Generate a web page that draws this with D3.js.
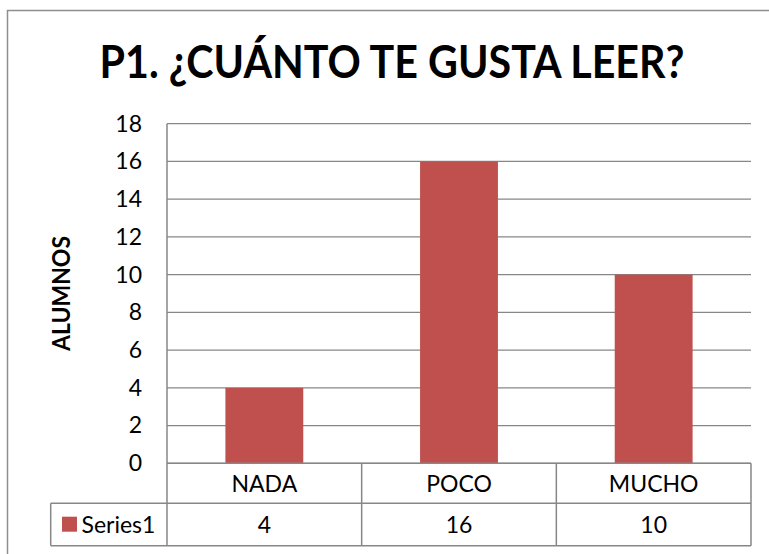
<!DOCTYPE html>
<html>
<head>
<meta charset="utf-8">
<script src="https://cdn.jsdelivr.net/npm/d3@7"></script>
<style>
  body { margin: 0; background: #fff; }
  svg text { font-family: Lato, "Liberation Sans", sans-serif; fill: #000; }
</style>
</head>
<body>
<svg id="chart" width="769" height="554"></svg>
<script>
var categories = ["NADA", "POCO", "MUCHO"];
var values = [4, 16, 10];
var seriesName = "Series1";
var yTicks = [0, 2, 4, 6, 8, 10, 12, 14, 16, 18];
var chartTitle = "P1. ¿CUÁNTO TE GUSTA LEER?";
var yTitle = "ALUMNOS";

var svg = d3.select("#chart");
var plotLeft = 167, plotRight = 751, plotTop = 123.7, plotBottom = 463.3;
var catRow = 503.3, serRow = 545.7, tableLeft = 50.7;
var grey = "#878787";

var y = d3.scaleLinear().domain([0, 18]).range([plotBottom, plotTop]);
var cols = d3.scaleBand().domain(categories).range([plotLeft, plotRight]);
var x = d3.scaleBand().domain(categories).range([plotLeft, plotRight])
  .paddingInner(0.6).paddingOuter(0.3);

// chart area border
svg.append("rect")
  .attr("x", 7.5).attr("y", 10.5)
  .attr("width", 800).attr("height", 600)
  .attr("fill", "none").attr("stroke", "#8e8e8e").attr("stroke-width", 1.5);

// title
svg.append("text")
  .attr("x", 392).attr("y", 78)
  .attr("text-anchor", "middle")
  .attr("font-size", 46).attr("font-weight", "bold")
  .attr("textLength", 585).attr("lengthAdjust", "spacingAndGlyphs")
  .text(chartTitle);

// gridlines
svg.append("g").selectAll("line")
  .data(yTicks)
  .enter().append("line")
  .attr("x1", plotLeft).attr("x2", plotRight)
  .attr("y1", function(d) { return y(d); })
  .attr("y2", function(d) { return y(d); })
  .attr("stroke", grey).attr("stroke-width", 1.3);

// y axis labels
var yAxis = d3.axisLeft(y).tickValues(yTicks).tickSize(0).tickPadding(25);
var ya = svg.append("g").attr("transform", "translate(" + plotLeft + ",0)").call(yAxis);
ya.select(".domain").remove();
ya.selectAll("text").attr("font-size", 23).style("font-family", "Lato, sans-serif").attr("fill", "#000");

// y title
svg.append("text")
  .attr("transform", "translate(70," + ((plotTop + plotBottom) / 2) + ") rotate(-90)")
  .attr("text-anchor", "middle")
  .attr("font-size", 24).attr("font-weight", "bold")
  .attr("textLength", 115).attr("lengthAdjust", "spacingAndGlyphs")
  .text(yTitle);

// bars
svg.append("g").selectAll("rect")
  .data(values)
  .enter().append("rect")
  .attr("x", function(d, i) { return x(categories[i]); })
  .attr("width", x.bandwidth())
  .attr("y", function(d) { return y(d); })
  .attr("height", function(d) { return y(0) - y(d); })
  .attr("fill", "#C0504D");

// data table
var t = svg.append("g").attr("stroke", grey).attr("stroke-width", 1.5);
t.append("line").attr("x1", plotLeft).attr("x2", plotRight).attr("y1", plotBottom).attr("y2", plotBottom);
t.append("line").attr("x1", tableLeft).attr("x2", plotRight).attr("y1", catRow).attr("y2", catRow);
t.append("line").attr("x1", tableLeft).attr("x2", plotRight).attr("y1", serRow).attr("y2", serRow);
t.append("line").attr("x1", tableLeft).attr("x2", tableLeft).attr("y1", catRow).attr("y2", serRow);
t.append("line").attr("x1", plotLeft).attr("x2", plotLeft).attr("y1", plotTop).attr("y2", serRow);
t.selectAll(".div")
  .data(categories)
  .enter().append("line")
  .attr("x1", function(d) { return cols(d) + cols.bandwidth(); })
  .attr("x2", function(d) { return cols(d) + cols.bandwidth(); })
  .attr("y1", plotBottom).attr("y2", serRow);

svg.append("g").selectAll("text")
  .data(categories)
  .enter().append("text")
  .attr("x", function(d) { return cols(d) + cols.bandwidth() / 2; })
  .attr("y", 491.5)
  .attr("text-anchor", "middle").attr("font-size", 23)
  .text(function(d) { return d; });

svg.append("g").selectAll("text")
  .data(values)
  .enter().append("text")
  .attr("x", function(d, i) { return cols(categories[i]) + cols.bandwidth() / 2; })
  .attr("y", 533)
  .attr("text-anchor", "middle").attr("font-size", 23)
  .text(function(d) { return d; });

// legend key in table
svg.append("rect")
  .attr("x", 62).attr("y", 516.7).attr("width", 15).attr("height", 15)
  .attr("fill", "#C0504D");
svg.append("text")
  .attr("x", 81.5).attr("y", 533).attr("font-size", 23)
  .text(seriesName);
</script>
</body>
</html>
